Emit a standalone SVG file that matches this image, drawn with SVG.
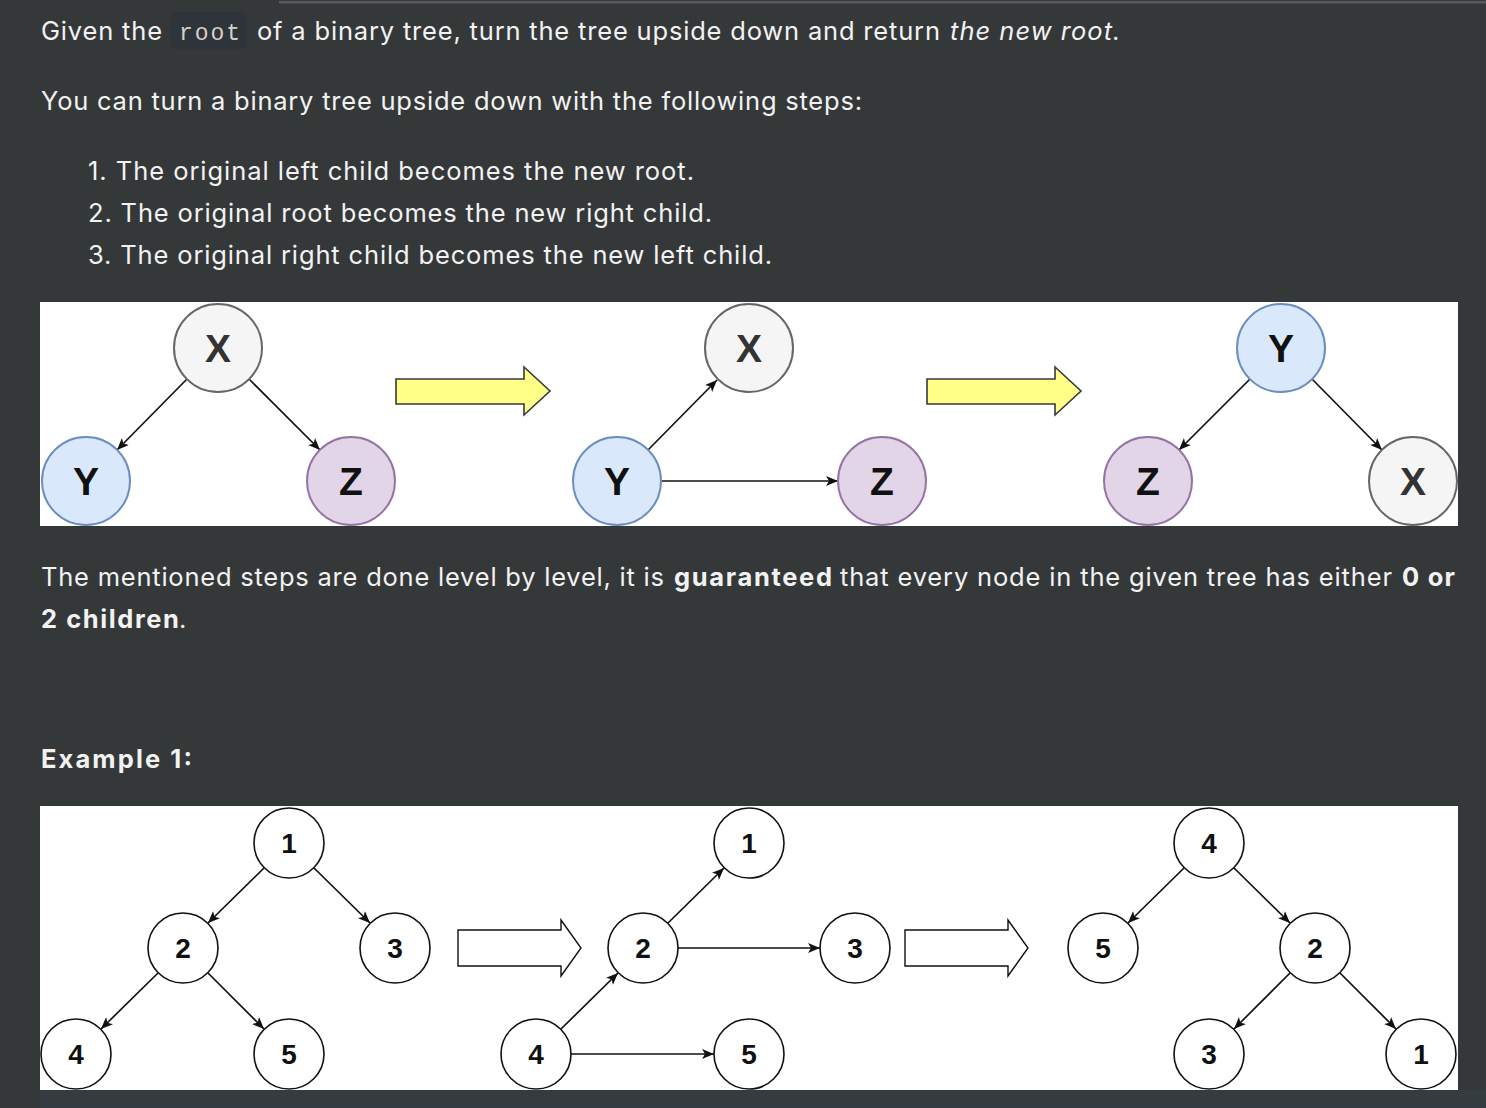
<svg xmlns="http://www.w3.org/2000/svg" width="1486" height="1108" viewBox="0 0 1486 1108">
<style>
.t{font-family:Inter,"Noto Sans","Liberation Sans",sans-serif;font-size:25.5px;fill:#f2f2f2}
.b{font-weight:700}
.i{font-style:italic}
.code{font-family:"Liberation Mono","DejaVu Sans Mono",monospace;font-size:23px;fill:#d6d0c8}
.nl{font-family:"Liberation Sans",Arial,sans-serif;font-weight:700;text-anchor:middle}
.big{font-size:39px}
.num{font-size:28px;fill:#111}
.edge{stroke:#111;stroke-width:1.7;fill:none;marker-end:url(#ah)}
.wn{fill:#fff;stroke:#111;stroke-width:1.6}
</style>
<defs>
<marker id="ah" viewBox="0 0 12 10" refX="12" refY="5" markerWidth="12" markerHeight="10" orient="auto" markerUnits="userSpaceOnUse">
<path d="M0,0 L12,5 L0,10 L3,5 Z" fill="#111"/>
</marker>
</defs>
<rect width="1486" height="1108" fill="#353839"/>
<rect x="279" y="1" width="1207" height="2.5" fill="#575b5e"/>
<g id="text">
<text class="t" x="41" y="40" textLength="121">Given the</text>
<rect x="170" y="12" width="77" height="37" rx="5" fill="#2e3439"/>
<text class="code" x="179" y="40" textLength="61">root</text>
<text class="t" x="257" y="40" textLength="683">of a binary tree, turn the tree upside down and return</text>
<text class="t i" x="950" y="40" textLength="162">the new root</text>
<text class="t" x="1112" y="40">.</text>
<text class="t" x="41" y="110" textLength="821">You can turn a binary tree upside down with the following steps:</text>
<text class="t" x="88" y="180" textLength="606">1. The original left child becomes the new root.</text>
<text class="t" x="88" y="222" textLength="624">2. The original root becomes the new right child.</text>
<text class="t" x="88" y="264" textLength="684">3. The original right child becomes the new left child.</text>
<text class="t" x="41" y="586" textLength="623">The mentioned steps are done level by level, it is</text>
<text class="t b" x="674" y="586" textLength="158">guaranteed</text>
<text class="t" x="840" y="586" textLength="552">that every node in the given tree has either</text>
<text class="t b" x="1402" y="586" textLength="53">0 or</text>
<text class="t b" x="41" y="628" textLength="138">2 children</text>
<text class="t" x="179" y="628">.</text>
<text class="t b" x="41" y="768" textLength="151">Example 1:</text>
</g>
<rect x="40" y="302" width="1418" height="224" fill="#fff"/>
<rect x="40" y="806" width="1418" height="284" fill="#fff"/>
<rect x="40" y="1090" width="1446" height="18" fill="#343b41"/>
<g id="connectors">
<line class="edge" x1="187" y1="379" x2="117" y2="450"/>
<line class="edge" x1="249" y1="379" x2="320" y2="450"/>
<line class="edge" x1="648" y1="450" x2="717" y2="380"/>
<line class="edge" x1="661" y1="481" x2="838" y2="481"/>
<line class="edge" x1="1250" y1="379" x2="1179" y2="450"/>
<line class="edge" x1="1312" y1="379" x2="1382" y2="450"/>
<line class="edge" x1="264" y1="868" x2="208" y2="923"/>
<line class="edge" x1="314" y1="868" x2="370" y2="923"/>
<line class="edge" x1="158" y1="973" x2="101" y2="1029"/>
<line class="edge" x1="208" y1="973" x2="264" y2="1029"/>
<line class="edge" x1="668" y1="923" x2="724" y2="868"/>
<line class="edge" x1="678" y1="948" x2="820" y2="948"/>
<line class="edge" x1="561" y1="1029" x2="618" y2="973"/>
<line class="edge" x1="571" y1="1054" x2="714" y2="1054"/>
<line class="edge" x1="1184" y1="868" x2="1128" y2="923"/>
<line class="edge" x1="1234" y1="868" x2="1290" y2="923"/>
<line class="edge" x1="1290" y1="973" x2="1234" y2="1029"/>
<line class="edge" x1="1340" y1="973" x2="1396" y2="1029"/>
</g>
<g id="arrow-y1"><polygon points="396,379 524,379 524,367 550,391 524,415 524,404 396,404" fill="#ffff88" stroke="#36393d" stroke-width="1.6"/></g>
<g id="arrow-y2"><polygon points="927,379 1055,379 1055,367 1081,391 1055,415 1055,404 927,404" fill="#ffff88" stroke="#36393d" stroke-width="1.6"/></g>
<g id="arrow-w1"><polygon points="458,930 561,930 561,920 581,948 561,976 561,966 458,966" fill="#fff" stroke="#111" stroke-width="1.4"/></g>
<g id="arrow-w2"><polygon points="905,930 1008,930 1008,920 1028,948 1008,976 1008,966 905,966" fill="#fff" stroke="#111" stroke-width="1.4"/></g>
<g id="n-x1"><circle cx="218" cy="348" r="44" fill="#f5f5f5" stroke="#666" stroke-width="2"/><text class="nl big" x="218" y="362" fill="#333">X</text></g>
<g id="n-y1"><circle cx="86" cy="481" r="44" fill="#dae8fc" stroke="#6c8ebf" stroke-width="2"/><text class="nl big" x="86" y="495" fill="#111">Y</text></g>
<g id="n-z1"><circle cx="351" cy="481" r="44" fill="#e1d5e7" stroke="#9673a6" stroke-width="2"/><text class="nl big" x="351" y="495" fill="#111">Z</text></g>
<g id="n-x2"><circle cx="749" cy="348" r="44" fill="#f5f5f5" stroke="#666" stroke-width="2"/><text class="nl big" x="749" y="362" fill="#333">X</text></g>
<g id="n-y2"><circle cx="617" cy="481" r="44" fill="#dae8fc" stroke="#6c8ebf" stroke-width="2"/><text class="nl big" x="617" y="495" fill="#111">Y</text></g>
<g id="n-z2"><circle cx="882" cy="481" r="44" fill="#e1d5e7" stroke="#9673a6" stroke-width="2"/><text class="nl big" x="882" y="495" fill="#111">Z</text></g>
<g id="n-y3"><circle cx="1281" cy="348" r="44" fill="#dae8fc" stroke="#6c8ebf" stroke-width="2"/><text class="nl big" x="1281" y="362" fill="#111">Y</text></g>
<g id="n-z3"><circle cx="1148" cy="481" r="44" fill="#e1d5e7" stroke="#9673a6" stroke-width="2"/><text class="nl big" x="1148" y="495" fill="#111">Z</text></g>
<g id="n-x3"><circle cx="1413" cy="481" r="44" fill="#f5f5f5" stroke="#666" stroke-width="2"/><text class="nl big" x="1413" y="495" fill="#333">X</text></g>
<g id="a1"><circle class="wn" cx="289" cy="843" r="35"/><text class="nl num" x="289" y="853">1</text></g>
<g id="a2"><circle class="wn" cx="183" cy="948" r="35"/><text class="nl num" x="183" y="958">2</text></g>
<g id="a3"><circle class="wn" cx="395" cy="948" r="35"/><text class="nl num" x="395" y="958">3</text></g>
<g id="a4"><circle class="wn" cx="76" cy="1054" r="35"/><text class="nl num" x="76" y="1064">4</text></g>
<g id="a5"><circle class="wn" cx="289" cy="1054" r="35"/><text class="nl num" x="289" y="1064">5</text></g>
<g id="b1"><circle class="wn" cx="749" cy="843" r="35"/><text class="nl num" x="749" y="853">1</text></g>
<g id="b2"><circle class="wn" cx="643" cy="948" r="35"/><text class="nl num" x="643" y="958">2</text></g>
<g id="b3"><circle class="wn" cx="855" cy="948" r="35"/><text class="nl num" x="855" y="958">3</text></g>
<g id="b4"><circle class="wn" cx="536" cy="1054" r="35"/><text class="nl num" x="536" y="1064">4</text></g>
<g id="b5"><circle class="wn" cx="749" cy="1054" r="35"/><text class="nl num" x="749" y="1064">5</text></g>
<g id="c4"><circle class="wn" cx="1209" cy="843" r="35"/><text class="nl num" x="1209" y="853">4</text></g>
<g id="c5"><circle class="wn" cx="1103" cy="948" r="35"/><text class="nl num" x="1103" y="958">5</text></g>
<g id="c2"><circle class="wn" cx="1315" cy="948" r="35"/><text class="nl num" x="1315" y="958">2</text></g>
<g id="c3"><circle class="wn" cx="1209" cy="1054" r="35"/><text class="nl num" x="1209" y="1064">3</text></g>
<g id="c1"><circle class="wn" cx="1421" cy="1054" r="35"/><text class="nl num" x="1421" y="1064">1</text></g>
</svg>
